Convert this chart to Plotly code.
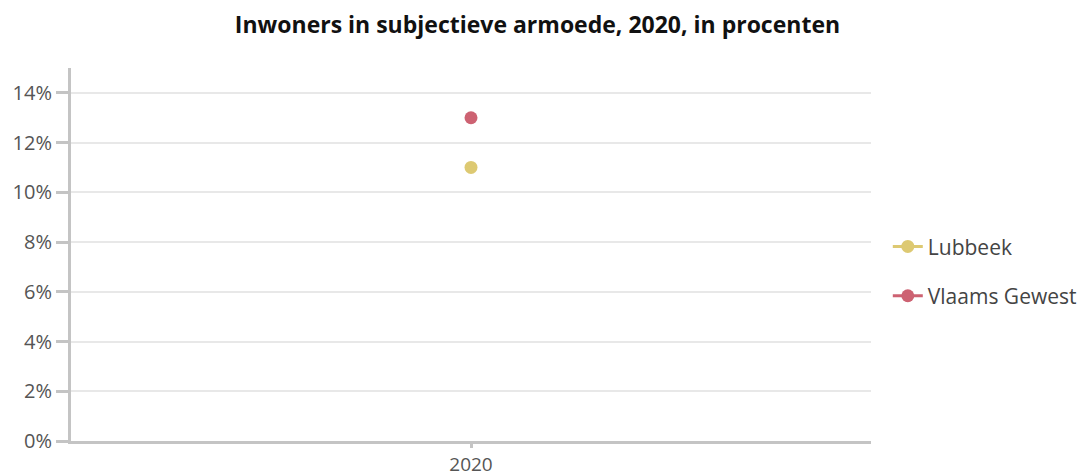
import plotly.graph_objects as go

categories = ["2020"]
series_names = ["Lubbeek", "Vlaams Gewest"]
lubbeek = [0.11]
vlaams_gewest = [0.13]
colors = ["#ddc972", "#cd6272"]
y_ticks = [0, 0.02, 0.04, 0.06, 0.08, 0.10, 0.12, 0.14]

fig = go.Figure()
for i, (name, vals) in enumerate(zip(series_names, [lubbeek, vlaams_gewest])):
    fig.add_trace(go.Scatter(
        x=categories, y=vals, name=name, mode="lines+markers",
        legendgroup=name,
        marker=dict(size=13, color=colors[i]),
        line=dict(color=colors[i], width=3),
        hovertemplate="%{y:.0%}<extra>" + name + "</extra>",
    ))

fig.update_layout(
    width=1085, height=472,
    margin=dict(l=63, r=222, t=60, b=39, autoexpand=False),
    paper_bgcolor="white", plot_bgcolor="white",
    font=dict(family="Open Sans, sans-serif", color="#555555"),
    title=dict(text="<b>Inwoners in subjectieve armoede, 2020, in procenten</b>",
               x=0.488, xanchor="center", y=0.964, yanchor="middle",
               font=dict(size=23, color="#111111")),
    legend=dict(x=1.021, xanchor="left", y=0.455, yanchor="middle",
                font=dict(size=21, color="#444444"), tracegroupgap=19,
                itemwidth=30),
    showlegend=True,
)
fig.update_xaxes(
    type="category", showline=True, linecolor="#c4c4c4", linewidth=3,
    ticks="outside", ticklen=4, tickwidth=3, tickcolor="#c4c4c4",
    showgrid=False, tickfont=dict(size=19, color="#555555"), automargin=False,
)
fig.update_yaxes(
    range=[0, 0.15], tickvals=y_ticks, tickformat=".0%",
    showline=True, linecolor="#c4c4c4", linewidth=3,
    ticks="outside", ticklen=12, tickwidth=3, tickcolor="#c4c4c4",
    showgrid=True, gridcolor="#e8e8e8", gridwidth=1.5, zeroline=False,
    tickfont=dict(size=20, color="#555555"), automargin=False,
)

fig.write_html("out.html")
